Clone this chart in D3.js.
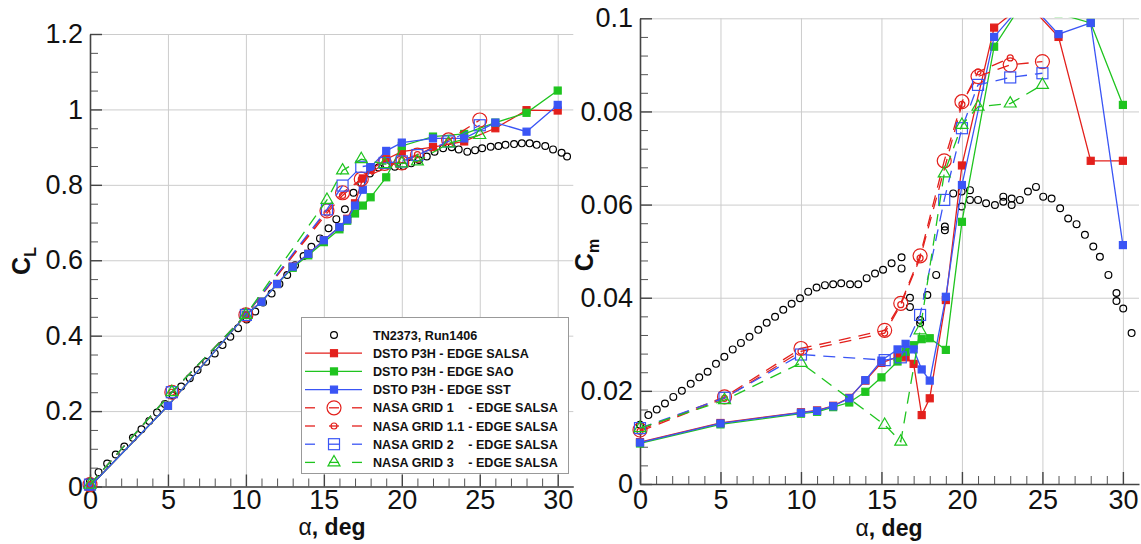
<!DOCTYPE html>
<html><head><meta charset="utf-8">
<script src="https://cdn.jsdelivr.net/npm/d3@7"></script>
<style>
body{margin:0;background:#fff}
svg{display:block}
text{font-family:"Liberation Sans",Arial,Helvetica,sans-serif}
</style>
</head><body>
<svg id="c" width="1141" height="544"></svg>
<script>
// ---------------- DATA ----------------
const X_TICKS = [0, 5, 10, 15, 20, 25, 30];
const CL_TICKS = [0, 0.2, 0.4, 0.6, 0.8, 1, 1.2];
const CM_TICKS = [0, 0.02, 0.04, 0.06, 0.08, 0.1];

// Experiment TN2373, Run1406
const EXP_CL_A = [0,0.55,1.1,1.65,2.2,2.75,3.3,3.8,4.3,4.8,5.3,5.85,6.4,6.9,7.45,8.0,8.5,9.0,9.5,10.05,10.6,11.1,11.65,12.15,12.65,13.15,13.7,14.2,14.75,15.3,15.8,16.35,16.9,17.4,17.95,18.5,19.0,19.55,20.1,20.6,21.1,21.6,22.1,22.65,23.2,23.65,24.2,24.7,25.15,25.7,26.2,26.65,27.2,27.7,28.2,28.65,29.2,29.7,30.25,30.6];
const EXP_CL = [0.013,0.038,0.061,0.085,0.106,0.129,0.152,0.174,0.196,0.219,0.242,0.265,0.287,0.309,0.331,0.353,0.375,0.397,0.42,0.443,0.464,0.488,0.512,0.537,0.561,0.587,0.611,0.636,0.658,0.685,0.709,0.735,0.779,0.805,0.83,0.846,0.853,0.848,0.85,0.857,0.866,0.875,0.888,0.897,0.9,0.894,0.888,0.892,0.897,0.901,0.903,0.906,0.908,0.91,0.91,0.906,0.903,0.894,0.885,0.875];
const EXP_CM_A = [0,0.52,1.04,1.55,2.07,2.6,3.15,3.68,4.2,4.72,5.24,5.76,6.27,6.8,7.35,7.87,8.39,8.9,9.42,9.94,10.45,10.97,11.49,12.0,12.5,13.05,13.56,14.08,14.6,15.1,15.63,16.25,16.25,16.77,16.77,17.4,17.4,17.85,18.4,18.94,18.94,19.46,19.98,19.98,20.5,20.5,21.0,21.5,22.05,22.57,22.57,23.09,23.09,23.6,24.1,24.6,25.05,25.57,26.1,26.6,27.12,27.64,28.16,28.57,29.1,29.6,29.6,30.02,30.54];
const EXP_CM = [0.0127,0.0148,0.016,0.0173,0.0187,0.02,0.0215,0.0229,0.0241,0.0258,0.0273,0.0289,0.0303,0.0316,0.0331,0.0346,0.0359,0.0374,0.0387,0.0399,0.0413,0.0422,0.0427,0.0429,0.0431,0.0429,0.0429,0.0442,0.0452,0.046,0.0474,0.0487,0.0463,0.04,0.038,0.0352,0.0345,0.0406,0.0449,0.0553,0.0545,0.0624,0.0628,0.0596,0.0631,0.061,0.061,0.0603,0.0599,0.0617,0.0606,0.0613,0.0599,0.061,0.0628,0.0638,0.0617,0.0613,0.0592,0.057,0.0558,0.0535,0.051,0.0488,0.0449,0.041,0.0393,0.0377,0.0324];

// DSTO P3H computations
const DSTO_A = [0,5,10,11,12,13,14,15,16,16.5,17,17.5,18,19,20,22,24,26,28,30];
const CL_SALSA = [0,0.214,0.455,0.49,0.537,0.583,0.617,0.653,0.688,0.71,0.751,0.817,0.84,0.868,0.888,0.9,0.915,0.95,0.998,0.997];
const CL_SAO   = [0,0.214,0.455,0.49,0.537,0.58,0.613,0.648,0.682,0.705,0.724,0.745,0.767,0.82,0.903,0.928,0.935,0.965,0.991,1.05];
const CL_SST   = [0,0.214,0.455,0.49,0.537,0.583,0.617,0.653,0.688,0.708,0.745,0.787,0.847,0.89,0.912,0.923,0.923,0.965,0.941,1.012];
const CM_SALSA = [0.009,0.0131,0.0154,0.0158,0.0168,0.0185,0.0222,0.026,0.0273,0.0272,0.0258,0.0148,0.0184,0.0395,0.0684,0.098,0.1035,0.096,0.0694,0.0694];
const CM_SAO   = [0.0087,0.0128,0.0151,0.0155,0.0165,0.0175,0.0198,0.0229,0.0263,0.0284,0.0298,0.0311,0.0313,0.0288,0.0563,0.0939,0.1045,0.101,0.099,0.0814];
const CM_SST   = [0.0089,0.013,0.0153,0.0157,0.0167,0.0184,0.0223,0.0265,0.0289,0.0301,0.0289,0.0246,0.0222,0.0402,0.0642,0.096,0.104,0.0966,0.099,0.0513];

// NASA grids
const NASA_A   = [0,5.25,10,15.2,16.2,17.4,18.9,20,21,23,25];
const NASA11_A = [0,5.25,10,15.2,16.2,17.4,20,21,23];
const CL_G1  = [0.005,0.25,0.455,0.731,0.779,0.815,0.857,0.858,0.879,0.919,0.972];
const CL_G11 = [0.005,0.25,0.455,0.725,0.772,0.815,0.865,0.88,0.915];
const CL_G2  = [0.005,0.25,0.455,0.735,0.798,0.848,0.858,0.862,0.879,0.915,0.958];
const CL_G3  = [0.005,0.25,0.455,0.76,0.838,0.868,0.855,0.857,0.862,0.91,0.932];
const CM_G1  = [0.0116,0.0187,0.0291,0.033,0.0388,0.049,0.0694,0.0821,0.0875,0.09,0.0907];
const CM_G11 = [0.0113,0.0184,0.0285,0.0324,0.0385,0.0485,0.0815,0.0885,0.0915];
const CM_G2  = [0.012,0.0185,0.0278,0.0266,0.0272,0.0363,0.061,0.0764,0.0857,0.0873,0.0882];
const CM_G3  = [0.012,0.018,0.026,0.0127,0.0091,0.033,0.0667,0.0771,0.081,0.0817,0.0857];

const LEGEND_LABELS = ["TN2373, Run1406","DSTO P3H - EDGE SALSA","DSTO P3H - EDGE SAO","DSTO P3H - EDGE SST","NASA GRID 1","NASA GRID 1.1","NASA GRID 2","NASA GRID 3"];
const LEGEND_SUFFIX = "- EDGE SALSA";

// ---------------- STYLE ----------------
const RED = "#e3201c", GREEN = "#1fc41f", BLUE = "#3a55f5";
const FONT_TICK = 27;
const svg = d3.select("#c");

const seriesStyle = [
  {key:"exp",  color:"#000", marker:"circle", r:3.4, dash:null, line:false, fill:"none"},
  {key:"salsa",color:RED,   marker:"square", s:7,  dash:null, line:true, fill:RED},
  {key:"sao",  color:GREEN, marker:"square", s:7,  dash:null, line:true, fill:GREEN},
  {key:"sst",  color:BLUE,  marker:"square", s:7,  dash:null, line:true, fill:BLUE},
  {key:"g1",   color:RED,   marker:"circle", r:7,  dash:"12,8", line:true, fill:"none"},
  {key:"g11",  color:RED,   marker:"circle", r:3,  dash:"12,8", line:true, fill:"none"},
  {key:"g2",   color:BLUE,  marker:"square", s:11, dash:"12,8", line:true, fill:"none"},
  {key:"g3",   color:GREEN, marker:"triangle", s:12, dash:"12,8", line:true, fill:"none"}
];

function drawMarker(g, st, cx, cy) {
  if (st.marker === "circle") {
    g.append("circle").attr("cx",cx).attr("cy",cy).attr("r",st.r)
      .attr("fill",st.fill).attr("stroke",st.color).attr("stroke-width",1.2);
  } else if (st.marker === "square") {
    g.append("rect").attr("x",cx-st.s/2).attr("y",cy-st.s/2).attr("width",st.s).attr("height",st.s)
      .attr("fill",st.fill).attr("stroke",st.color).attr("stroke-width",1.2);
  } else {
    const sym = d3.symbol(d3.symbolTriangle, Math.sqrt(3)/4*st.s*st.s);
    g.append("path").attr("transform",`translate(${cx},${cy})`).attr("d",sym())
      .attr("fill",st.fill).attr("stroke",st.color).attr("stroke-width",1.2);
  }
}

function drawPanel(cfg) {
  const x = d3.scaleLinear().domain([0,31]).range(cfg.xr);
  const y = d3.scaleLinear().domain(cfg.yd).range(cfg.yr);
  const g = svg.append("g");
  const [x0,x1] = cfg.xr, [yb,yt] = cfg.yr;

  // grid
  g.append("g").attr("transform",`translate(0,${yb})`)
    .call(d3.axisBottom(x).tickValues(X_TICKS).tickSize(-(yb-yt)).tickFormat("").tickSizeOuter(0))
    .call(a=>a.select(".domain").remove())
    .call(a=>a.selectAll("line").attr("stroke","#cccccc").attr("stroke-width",1));
  g.append("g").attr("transform",`translate(${x0},0)`)
    .call(d3.axisLeft(y).tickValues(cfg.yTicks).tickSize(-(x1-x0)).tickFormat("").tickSizeOuter(0))
    .call(a=>a.select(".domain").remove())
    .call(a=>a.selectAll("line").attr("stroke","#cccccc").attr("stroke-width",1));

  // minor ticks
  const xMinor = d3.range(0,31).filter(v=>v%5!==0);
  g.append("g").attr("transform",`translate(0,${yb})`)
    .call(d3.axisBottom(x).tickValues(xMinor).tickSize(-8).tickFormat("").tickSizeOuter(0))
    .call(a=>a.select(".domain").remove())
    .call(a=>a.selectAll("line").attr("stroke","#555").attr("stroke-width",1));
  g.append("g").attr("transform",`translate(${x0},0)`)
    .call(d3.axisLeft(y).tickValues(cfg.yMinor).tickSize(-8).tickFormat("").tickSizeOuter(0))
    .call(a=>a.select(".domain").remove())
    .call(a=>a.selectAll("line").attr("stroke","#555").attr("stroke-width",1));

  // major axes
  g.append("g").attr("transform",`translate(0,${yb})`)
    .call(d3.axisBottom(x).tickValues(X_TICKS).tickSize(-12).tickPadding(cfg.xPad).tickSizeOuter(0).tickFormat(d=>String(d)))
    .call(a=>a.select(".domain").attr("stroke","#444").attr("stroke-width",1.6))
    .call(a=>a.selectAll("line").attr("stroke","#444").attr("stroke-width",1.4))
    .call(a=>a.selectAll("text").attr("font-size",FONT_TICK).attr("fill","#111").attr("font-family","Liberation Sans, Arial, sans-serif"));
  g.append("g").attr("transform",`translate(${x0},0)`)
    .call(d3.axisLeft(y).tickValues(cfg.yTicks).tickSize(-12).tickPadding(7).tickSizeOuter(0).tickFormat(d=>String(+d.toFixed(3))))
    .call(a=>a.select(".domain").attr("stroke","#444").attr("stroke-width",1.6))
    .call(a=>a.selectAll("line").attr("stroke","#444").attr("stroke-width",1.4))
    .call(a=>a.selectAll("text").attr("font-size",FONT_TICK).attr("fill","#111").attr("font-family","Liberation Sans, Arial, sans-serif"));

  // clip
  const cid = "clip"+cfg.id;
  svg.append("clipPath").attr("id",cid).append("rect")
    .attr("x",x0-20).attr("y",yt-0.5).attr("width",x1-x0+40).attr("height",yb-yt+30);
  const dg = g.append("g").attr("clip-path",`url(#${cid})`);

  cfg.series.forEach((s,i)=>{
    const st = seriesStyle[i];
    const pts = s.a.map((a,k)=>[x(a), y(s.v[k])]);
    if (st.line) {
      dg.append("path").attr("d",d3.line()(pts)).attr("fill","none")
        .attr("stroke",st.color).attr("stroke-width",1.3)
        .attr("stroke-dasharray",st.dash);
    }
    pts.forEach(p=>drawMarker(dg, st, p[0], p[1]));
  });

  // x title
  const xt = g.append("text").attr("x",cfg.xTitle[0]).attr("y",cfg.xTitle[1])
    .attr("text-anchor","middle").attr("font-size",23).attr("fill","#111");
  xt.append("tspan").text("α");
  xt.append("tspan").attr("font-weight","bold").text(", deg");

  // y title
  const yt2 = g.append("text").attr("transform",`translate(${cfg.yTitle[0]},${cfg.yTitle[1]}) rotate(-90)`)
    .attr("text-anchor","middle").attr("font-size",25).attr("font-weight","bold").attr("fill","#111");
  yt2.append("tspan").text("C");
  yt2.append("tspan").attr("font-size",16).attr("dy",6).text(cfg.sub);
  return {x,y};
}

drawPanel({
  id:"L", xr:[90,573.3], yd:[0,1.2], yr:[486.5,34],
  yTicks:CL_TICKS, yMinor:d3.range(0,25).map(i=>i*0.05).filter((v,i)=>i%4!==0),
  xPad:3, xTitle:[332,535], yTitle:[30,261], sub:"L",
  series:[
    {a:EXP_CL_A,v:EXP_CL},{a:DSTO_A,v:CL_SALSA},{a:DSTO_A,v:CL_SAO},{a:DSTO_A,v:CL_SST},
    {a:NASA_A,v:CL_G1},{a:NASA11_A,v:CL_G11},{a:NASA_A,v:CL_G2},{a:NASA_A,v:CL_G3}
  ]
});
drawPanel({
  id:"R", xr:[640,1139], yd:[0,0.1], yr:[484,18.3],
  yTicks:CM_TICKS, yMinor:d3.range(0,26).map(i=>i*0.004).filter((v,i)=>i%5!==0),
  xPad:6, xTitle:[889,536], yTitle:[593,255], sub:"m",
  series:[
    {a:EXP_CM_A,v:EXP_CM},{a:DSTO_A,v:CM_SALSA},{a:DSTO_A,v:CM_SAO},{a:DSTO_A,v:CM_SST},
    {a:NASA_A,v:CM_G1},{a:NASA11_A,v:CM_G11},{a:NASA_A,v:CM_G2},{a:NASA_A,v:CM_G3}
  ]
});

// ---------------- LEGEND ----------------
const lg = svg.append("g");
lg.append("rect").attr("x",301.5).attr("y",317.5).attr("width",267).attr("height",156)
  .attr("fill","#fff").attr("stroke","#999").attr("stroke-width",1);
const rowY = i => 335 + i*18.2;
const textX = 373, lx0 = 305, lx1 = 362, mx = 334;
const fontLeg = 12.6;
// measure suffix position (text width of the longest grid name plus a space)
const tmp = lg.append("text").attr("font-size",fontLeg).attr("font-weight","bold").text("NASA GRID 1.1");
const sufX = textX + tmp.node().getComputedTextLength() + 4;
tmp.remove();
LEGEND_LABELS.forEach((lab,i)=>{
  const st = seriesStyle[i];
  const cy = rowY(i);
  if (st.line) {
    if (st.dash) {
      [[lx0,lx0+10],[mx-5,mx+5],[lx1-10,lx1]].forEach(([a,b])=>
        lg.append("line").attr("x1",a).attr("x2",b).attr("y1",cy).attr("y2",cy)
          .attr("stroke",st.color).attr("stroke-width",1.3));
    } else {
      lg.append("line").attr("x1",lx0).attr("x2",lx1).attr("y1",cy).attr("y2",cy)
        .attr("stroke",st.color).attr("stroke-width",1.3);
    }
  }
  drawMarker(lg, st, mx, cy);
  lg.append("text").attr("x",textX).attr("y",cy+4.5).attr("font-size",fontLeg)
    .attr("font-weight","bold").attr("fill","#111").text(lab);
  if (i >= 4) {
    lg.append("text").attr("x",sufX).attr("y",cy+4.5).attr("font-size",fontLeg)
      .attr("font-weight","bold").attr("fill","#111").text(LEGEND_SUFFIX);
  }
});
</script>
</body></html>
